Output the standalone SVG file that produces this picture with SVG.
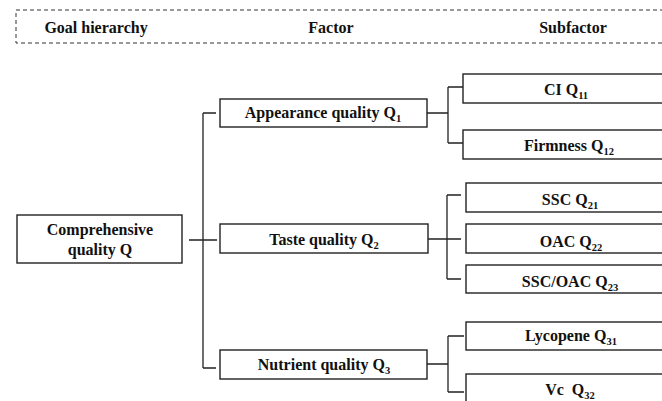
<svg xmlns="http://www.w3.org/2000/svg" width="662" height="401" viewBox="0 0 662 401">
<style>
.box{fill:#fff;stroke:#222;stroke-width:1.4}
.ln{fill:none;stroke:#222;stroke-width:1.3}
.hd{fill:none;stroke:#333;stroke-width:1;stroke-dasharray:4 3}
text{font-family:"Liberation Serif","Times New Roman",serif;font-weight:bold;font-size:16px;fill:#111;text-anchor:middle;white-space:pre}
.sub{font-size:10.5px}
</style>
<g id="header">
<rect class="hd" x="16" y="10" width="660" height="33"/>
<text x="96" y="33">Goal hierarchy</text>
<text x="331" y="33">Factor</text>
<text x="573" y="33">Subfactor</text>
</g>
<g id="connectors">
<path class="ln" d="M189 240H217M203 113V368M203 113H216M203 368H216"/>
<path class="ln" d="M427 113H448M448 87V143M448 87H463M448 143H463"/>
<path class="ln" d="M428 239H461M447 195V279M447 195H461M447 279H461"/>
<path class="ln" d="M427 364H448M448 336V392M448 336H464M448 392H464"/>
</g>
<g id="goal">
<rect class="box" x="17" y="215" width="165" height="48"/>
<text x="100" y="235">Comprehensive</text>
<text x="100" y="255">quality Q</text>
</g>
<g id="q1">
<rect class="box" x="220" y="99" width="207" height="28"/>
<text x="323" y="118">Appearance quality Q<tspan class="sub" dy="4">1</tspan></text>
</g>
<g id="q2">
<rect class="box" x="220" y="224" width="208" height="29"/>
<text x="324" y="245">Taste quality Q<tspan class="sub" dy="4">2</tspan></text>
</g>
<g id="q3">
<rect class="box" x="220" y="350" width="207" height="29"/>
<text x="324" y="370">Nutrient quality Q<tspan class="sub" dy="4">3</tspan></text>
</g>
<g id="q11">
<rect class="box" x="463" y="74" width="212" height="29"/>
<text x="566" y="95">CI Q<tspan class="sub" dy="4">11</tspan></text>
</g>
<g id="q12">
<rect class="box" x="463" y="130" width="212" height="29"/>
<text x="569" y="151">Firmness Q<tspan class="sub" dy="4">12</tspan></text>
</g>
<g id="q21">
<rect class="box" x="466" y="183" width="210" height="29"/>
<text x="570" y="205">SSC Q<tspan class="sub" dy="4">21</tspan></text>
</g>
<g id="q22">
<rect class="box" x="466" y="224" width="210" height="29"/>
<text x="571" y="247">OAC Q<tspan class="sub" dy="4">22</tspan></text>
</g>
<g id="q23">
<rect class="box" x="466" y="265" width="210" height="28"/>
<text x="570" y="287">SSC/OAC Q<tspan class="sub" dy="4">23</tspan></text>
</g>
<g id="q31">
<rect class="box" x="466" y="322" width="210" height="28"/>
<text x="571" y="341">Lycopene Q<tspan class="sub" dy="4">31</tspan></text>
</g>
<g id="q32">
<rect class="box" x="466" y="374" width="210" height="30"/>
<text x="570" y="395">Vc  Q<tspan class="sub" dy="4">32</tspan></text>
</g>
</svg>
